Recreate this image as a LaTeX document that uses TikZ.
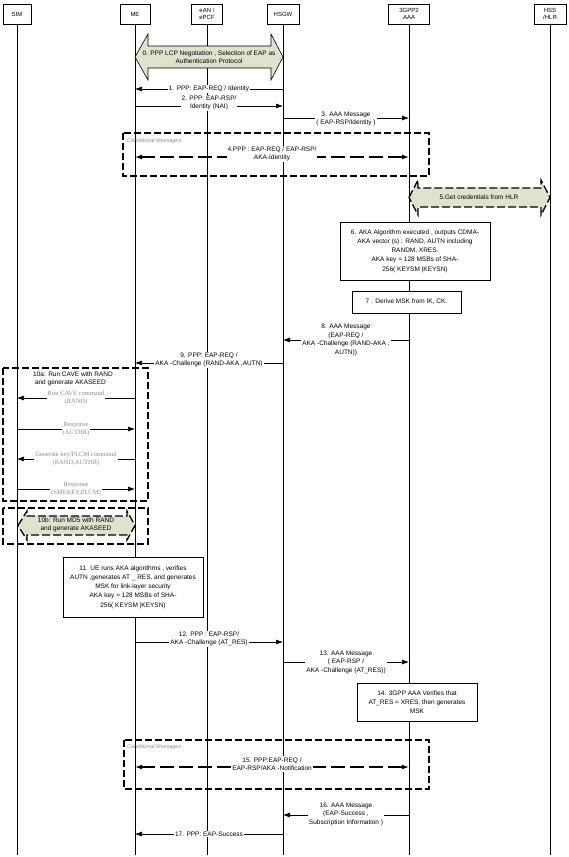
\documentclass[tikz,border=0pt]{standalone}
\usepackage{fontspec}
\setmainfont{Liberation Sans}
\newfontfamily\seriffam{Liberation Serif}
\usetikzlibrary{arrows.meta}
\newcommand\hfont{\fontsize{6}{7.5}\selectfont}
\newcommand\mfont{\fontsize{6.5}{8.5}\selectfont}
\newcommand\bfont{\fontsize{6.5}{9.3}\selectfont}
\newcommand\gfont{\seriffam\fontsize{6.5}{8.5}\selectfont\color{greytext}}
\definecolor{arrowgreen}{RGB}{221,227,205}
\definecolor{greytext}{RGB}{140,140,140}
\begin{document}
\begin{tikzpicture}[x=1pt,y=-1pt,
  hdr/.style={draw, line width=0.6pt, minimum height=20pt, inner sep=1pt, font=\hfont, align=center},
  life/.style={line width=0.6pt},
  msg/.style={line width=0.6pt, -{Latex[length=7pt,width=5pt]}},
  dmsg/.style={line width=1.3pt, dash pattern=on 14pt off 5pt, {Latex[length=7pt,width=5pt]}-{Latex[length=7pt,width=5pt]}},
  lbl/.style={fill=white, font=\mfont, align=center, inner sep=1pt},
  glbl/.style={fill=white, font=\gfont, align=center, inner sep=1pt},
  stepbox/.style={draw, fill=white, line width=0.6pt, font=\bfont, align=center, inner sep=2pt},
  condbox/.style={draw, line width=1.4pt, dash pattern=on 7pt off 3pt},
  condlbl/.style={font=\fontsize{5.5}{6.5}\selectfont\itshape\color{greytext}, anchor=north west, inner sep=0pt},
  bigarrow/.style={draw, fill=arrowgreen, line width=0.6pt},
  dbigarrow/.style={draw, fill=arrowgreen, line width=1.3pt, dash pattern=on 8pt off 3pt},
  plain/.style={font=\mfont, align=center, inner sep=1pt},
]
\useasboundingbox (0,0) rectangle (569,857);
\fill[white] (0,0) rectangle (569,857);

% headers
\node[hdr, minimum width=28pt] (sim) at (17,14) {SIM};
\node[hdr, minimum width=30pt] (me) at (135,14) {ME};
\node[hdr, minimum width=31pt] (ean) at (207,14) {eAN /\\ePCF};
\node[hdr, minimum width=32pt] (hsgw) at (283,14) {HSGW};
\node[hdr, minimum width=41pt] (aaa) at (409,14) {3GPP2\\AAA};
\node[hdr, minimum width=32pt] (hss) at (550,14) {HSS\\/HLR};

% lifelines
\coordinate (simend) at (17,855);
\coordinate (meend) at (135,855);
\coordinate (eanend) at (207,855);
\coordinate (hsgwend) at (283,855);
\coordinate (aaaend) at (409,855);
\coordinate (hssend) at (550,855);
\draw[life] (sim.south) -- (simend);
\draw[life] (me.south) -- (meend);
\draw[life] (ean.south) -- (eanend);
\draw[life] (hsgw.south) -- (hsgwend);
\draw[life] (aaa.south) -- (aaaend);
\draw[life] (hss.south) -- (hssend);

% 0. big arrow
\draw[bigarrow] (135,57) -- (148,34) -- (148,46) -- (271,46) -- (271,34) -- (283,57)
  -- (271,80) -- (271,68) -- (148,68) -- (148,80) -- cycle;
\node[plain] (a0) at (209,57) {0. PPP LCP Negotiation , Selection of EAP as\\Authentication Protocol};

% 1 - 3
\draw[msg] (hsgw |- 0,89) -- node[lbl] (l1) {1. PPP: EAP-REQ / Identity} (me |- 0,89);
\draw[msg] (me |- 0,106) -- node[lbl, yshift=3pt] (l2) {2. PPP: EAP-RSP/\\Identity (NAI)} (hsgw |- 0,106);
\draw[msg] (hsgw |- 0,118) -- node[lbl, yshift=-1pt] (l3) {3. AAA Message\\( EAP-RSP/Identity )} (aaa |- 0,118);

% conditional 1
\draw[condbox] (123,133) rectangle (429,176);
\node[condlbl] (c1) at (127,138) {Conditional Messages};
\draw[dmsg] (me |- 0,157) -- node[lbl, yshift=3pt] (l4) {4.PPP : EAP-REQ / EAP-RSP/\\AKA-Identity} (aaa |- 0,157);

% 5 big dashed arrow
\draw[dbigarrow] (409,197.5) -- (418,180) -- (418,188) -- (541,188) -- (541,180) -- (550,197.5)
  -- (541,215) -- (541,207) -- (418,207) -- (418,215) -- cycle;
\node[plain] (a5) at (479,197.5) {5.Get credentials from HLR};

% 6, 7
\node[stepbox, minimum width=150pt, minimum height=58pt] (s6) at (415,251)
  {6. AKA Algorithm executed , outputs CDMA-\\AKA vector (s) : RAND, AUTN including\\RANDM, XRES.\\AKA key = 128 MSBs of SHA-\\256( KEYSM |KEYSN)};
\node[stepbox, minimum width=109pt, minimum height=22pt] (s7) at (406.5,302) {7 . Derive MSK from IK, CK.};

% 8, 9
\draw[msg] (aaa |- 0,340) -- node[lbl] (l8) {8. AAA Message\\(EAP-REQ /\\AKA -Challenge (RAND-AKA ,\\AUTN))} (hsgw |- 0,340);
\draw[msg] (hsgw |- 0,363) -- node[lbl, yshift=3pt] (l9) {9. PPP: EAP-REQ /\\AKA -Challenge (RAND-AKA ,AUTN)} (me |- 0,363);

% 10a
\draw[condbox] (3,368) rectangle (148,501);
\node[font=\mfont, align=left, anchor=north west, inner sep=0pt] (l10a) at (33,371.5) {10a: Run CAVE with RAND\\\ and generate AKASEED};
\draw[msg] (me |- 0,398) -- node[glbl] (g1) {Run CAVE command\\(RAND)} (sim |- 0,398);
\draw[msg] (sim |- 0,429) -- node[glbl] (g2) {Response\\(AUTHR)} (me |- 0,429);
\draw[msg] (me |- 0,459) -- node[glbl] (g3) {Generate key/PLCM command\\(RAND,AUTHR)} (sim |- 0,459);
\draw[msg] (sim |- 0,489) -- node[glbl] (g4) {Response\\(SMEKEY,PLCM)} (me |- 0,489);

% 10b
\draw[condbox] (3,508) rectangle (148,544);
\draw[dbigarrow] (18,525.5) -- (27,511) -- (27,516) -- (127,516) -- (127,511) -- (135,525.5)
  -- (127,540) -- (127,535) -- (27,535) -- (27,540) -- cycle;
\node[plain] (a10b) at (76,525) {10b: Run MD5 with RAND\\and generate AKASEED};

% 11
\node[stepbox, minimum width=140pt, minimum height=60pt] (s11) at (133,587)
  {11. UE runs AKA algorithms , verifies\\AUTN ,generates AT \_ RES, and generates\\MSK for link-layer security\\AKA key = 128 MSBs of SHA-\\256( KEYSM |KEYSN)};

% 12, 13
\draw[msg] (me |- 0,642) -- node[lbl, yshift=3pt] (l12) {12. PPP : EAP-RSP/\\AKA -Challenge (AT\_RES)} (hsgw |- 0,642);
\draw[msg] (hsgw |- 0,662) -- node[lbl] (l13) {13. AAA Message\\( EAP-RSP /\\AKA -Challenge (AT\_RES))} (aaa |- 0,662);

% 14
\node[stepbox, minimum width=120pt, minimum height=38pt] (s14) at (417,702)
  {14. 3GPP AAA Verifies that\\AT\_RES = XRES, then generates\\MSK};

% conditional 2
\draw[condbox] (124,740) rectangle (429,789);
\node[condlbl] (c2) at (127,744) {Conditional Messages};
\draw[dmsg] (me |- 0,767) -- node[lbl, yshift=3pt] (l15) {15. PPP:EAP-REQ /\\EAP-RSP/AKA -Notification} (aaa |- 0,767);

% 16, 17
\draw[msg] (aaa |- 0,815) -- node[lbl, yshift=1pt] (l16) {16. AAA Message\\(EAP-Success ,\\Subscription Information )} (hsgw |- 0,815);
\draw[msg] (hsgw |- 0,834) -- node[lbl] (l17) {17. PPP: EAP-Success} (me |- 0,834);
\end{tikzpicture}
\end{document}
